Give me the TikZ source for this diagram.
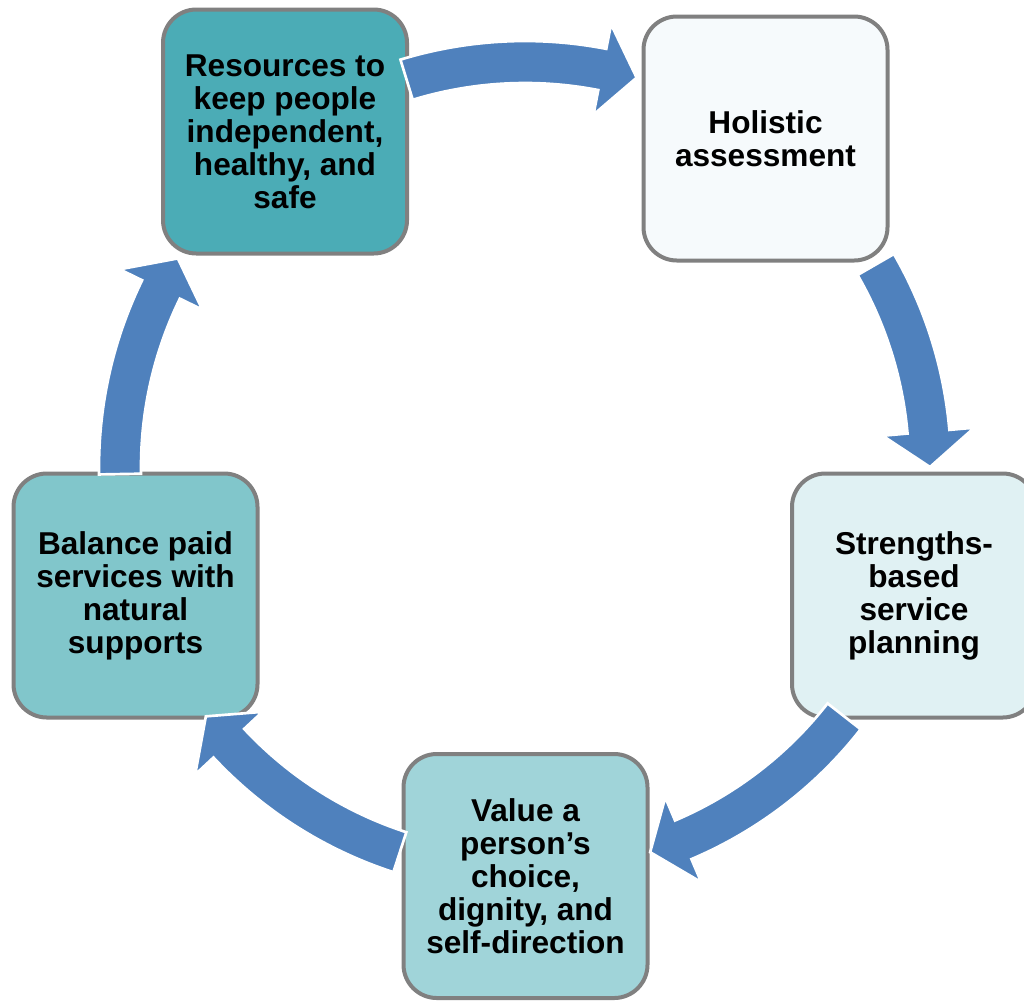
\documentclass[tikz,border=0pt]{standalone}
\usepackage{fontspec}
\setmainfont{Liberation Sans}
\definecolor{arrowblue}{RGB}{79,129,189}
\definecolor{boxgray}{RGB}{128,128,128}
\definecolor{fillA}{RGB}{75,172,182}
\definecolor{fillB}{RGB}{246,250,252}
\definecolor{fillC}{RGB}{224,241,243}
\definecolor{fillD}{RGB}{160,212,217}
\definecolor{fillE}{RGB}{129,198,203}
\tikzset{
  cbox/.style={draw=boxgray, line width=3pt, rounded corners=25pt,
    minimum width=183pt, minimum height=183pt, inner sep=0pt,
    align=center, text=black,
    font=\fontsize{23.7}{24.75}\selectfont\bfseries},
  cyc/.style={fill=arrowblue, draw=white, line width=2pt, line join=miter}
}
\newcommand\cycarrow[3]{%
  \path[cyc] plot[domain=#1:#2, samples=40] (\x:426) -- (#2:451) -- (#3:405)
    -- (#2:359) -- plot[domain=#2:#1, samples=40] (\x:384) -- cycle;}
\begin{document}
\begin{tikzpicture}[x=0.75pt,y=-0.75pt]
  \fill[white] (0,0) rectangle (1024,1001);
  \useasboundingbox (0,0) rectangle (1024,1001);
  \node[cbox, fill=fillA] (b1) at (285,131.5) {Resources to\\keep people\\independent,\\healthy, and\\safe};
  \node[cbox, fill=fillB] (b2) at (765.5,138.5) {Holistic\\assessment};
  \node[cbox, fill=fillC] (b3) at (914,595.5) {Strengths-\\based\\service\\planning};
  \node[cbox, fill=fillD] (b4) at (525.5,876) {Value a\\person’s\\choice,\\dignity, and\\self-direction};
  \node[cbox, fill=fillE] (b5) at (135.5,595.5) {Balance paid\\services with\\natural\\supports};
  \coordinate (c) at (525,467);
  \begin{scope}[shift={(c)}]
    \cycarrow{253}{281}{286}
    \cycarrow{330}{355}{360}
    \cycarrow{38}{67}{72}
    \cycarrow{108}{137}{142}
    \cycarrow{179}{206}{211}
  \end{scope}
\end{tikzpicture}
\end{document}
